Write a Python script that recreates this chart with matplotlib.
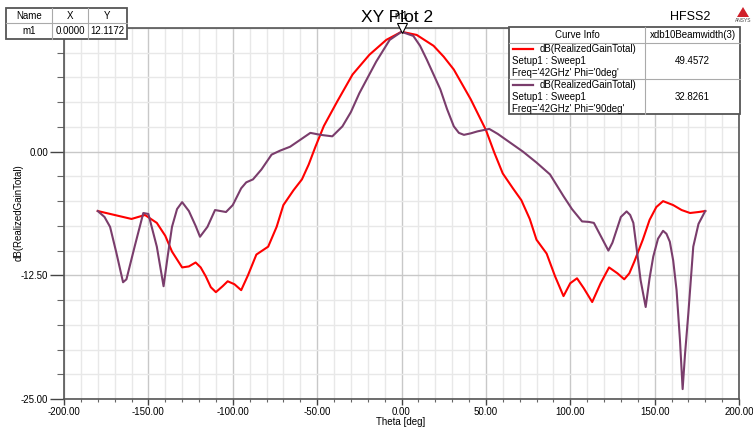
import matplotlib
matplotlib.use("Agg")
import matplotlib.pyplot as plt
from matplotlib.patches import Rectangle, Polygon
from matplotlib.lines import Line2D
import matplotlib.transforms as mtrans
from matplotlib.ticker import MultipleLocator

plt.rcParams['font.family'] = ['Liberation Sans', 'DejaVu Sans']

# Phi = 0deg (red)
theta0 = [-180, -170, -160, -152, -145, -140, -136, -130, -126, -122, -119, -116, -113,
          -110, -106, -103, -99, -95, -91, -86, -79, -74, -70, -64, -59, -55, -51, -46,
          -38, -29, -19, -9, 0, 9, 19, 25, 31, 41, 50, 55, 60, 66, 71, 76, 80, 86, 91,
          96, 100, 104, 108, 113, 118, 123, 128, 132, 135, 138, 143, 147, 151, 155, 161,
          166, 171, 176, 180]
gain0 = [-6.0, -6.4, -6.8, -6.4, -7.2, -8.5, -10.1, -11.7, -11.6, -11.2, -11.7, -12.6, -13.7,
         -14.2, -13.6, -13.1, -13.4, -14.0, -12.5, -10.4, -9.6, -7.6, -5.4, -3.9, -2.8, -1.3, 0.5, 2.6,
         5.1, 7.8, 9.8, 11.3, 12.1172, 11.8, 10.7, 9.6, 8.3, 5.3, 2.2, -0.1, -2.2, -3.7, -4.9, -6.8, -8.9, -10.3, -12.6,
         -14.6, -13.3, -12.8, -13.8, -15.2, -13.3, -11.7, -12.3, -12.9, -12.3, -11.1, -8.9, -6.9, -5.6, -5.0, -5.4,
         -5.9, -6.2, -6.1, -6.0]

# Phi = 90deg (purple)
theta90 = [-180, -176, -172.7, -169, -165, -163, -158, -153, -150, -145, -141, -138.5, -136,
           -133, -130, -126, -122, -119.4, -115, -110.5, -104, -100, -95, -92, -88, -83, -77,
           -72, -66, -60, -54, -48, -41, -35, -30, -25, -20, -15, -7, 0, 7, 11, 15, 19, 23,
           27, 31, 34, 37, 41, 45, 52, 57, 62, 67, 72, 80, 88, 92, 96, 101, 107, 111, 114,
           118, 122.6, 125, 127.5, 130, 133.4, 135.5, 137.4, 139.5, 141.7, 144.7, 147, 149.2,
           152, 155, 157, 159, 161, 163, 165, 166.6, 168, 170, 172.9, 176, 180]
gain90 = [-6.0, -6.6, -7.6, -10.2, -13.2, -12.9, -9.5, -6.2, -6.3, -9.6, -13.6, -10.5, -7.6,
          -5.8, -5.1, -6.0, -7.5, -8.6, -7.6, -5.9, -6.1, -5.4, -3.7, -3.1, -2.8, -1.8, -0.3,
          0.1, 0.5, 1.2, 1.9, 1.7, 1.55, 2.56, 4.0, 5.9, 7.5, 9.1, 11.3, 12.1172, 11.7, 10.7, 9.3, 7.8, 6.3,
          4.3, 2.56, 1.9, 1.7, 1.85, 2.05, 2.3, 1.8, 1.2, 0.6, 0.0, -1.1, -2.3, -3.4, -4.5, -5.8, -7.05, -7.1, -7.2,
          -8.5, -10.0, -9.2, -7.9, -6.6, -6.04, -6.4, -7.2, -10.0, -13.0, -15.7, -12.8, -10.6,
          -8.8, -8.0, -8.3, -9.1, -11.0, -14.0, -19.0, -24.0, -20.5, -16.3, -9.6, -7.3, -6.0]

beamwidths = ["49.4572", "32.8261"]
curve_names = ["Freq='42GHz' Phi='0deg'", "Freq='42GHz' Phi='90deg'"]
colors = ["#ff0000", "#7a3d6c"]
marker_x, marker_y = 0.0, 12.1172

W, H = 753, 428
fig = plt.figure(figsize=(W / 100, H / 100), dpi=100)
ax = fig.add_axes([64 / W, 1 - 399 / H, 675 / W, 371 / H])

def fx(x):
    return x / W

def fy(y):
    return 1 - y / H

ax.plot(theta0, gain0, color=colors[0], lw=1.5, zorder=3)
ax.plot(theta90, gain90, color=colors[1], lw=1.5, zorder=3)

ax.set_xlim(-200, 200)
ax.set_ylim(-25, 12.5)
ax.xaxis.set_major_locator(MultipleLocator(50))
ax.xaxis.set_minor_locator(MultipleLocator(10))
ax.yaxis.set_major_locator(MultipleLocator(12.5))
ax.yaxis.set_minor_locator(MultipleLocator(2.5))
ax.xaxis.set_major_formatter(lambda v, p: "%.2f" % v)
# top label is hidden behind the marker table in the reference
ax.yaxis.set_major_formatter(lambda v, p: "" if v > 12 else "%.2f" % v)
ax.grid(which='major', color='#c8c8c8', lw=1.0)
ax.grid(which='minor', color='#e8e8e8', lw=1.0)
ax.set_axisbelow(True)
ax.tick_params(axis='x', which='major', length=4, width=1, color='#444444', labelsize=7, pad=2)
ax.tick_params(axis='x', which='minor', length=2.5, width=0.8, color='#666666')
ax.tick_params(axis='y', which='major', length=10, width=1, color='#444444', labelsize=7, pad=1.5)
ax.tick_params(axis='y', which='minor', length=5, width=0.8, color='#666666')
for s in ax.spines.values():
    s.set_color('#555555')
    s.set_linewidth(1.2)
fig.text(fx(401), fy(422), "Theta [deg]", fontsize=7, ha='center', va='center')
fig.text(fx(19), fy(213), "dB(RealizedGainTotal)", fontsize=7, ha='center', va='center',
         rotation=90)

# marker m1
tr = mtrans.offset_copy(ax.transData, fig=fig, x=0, y=4, units='dots')
ax.plot(marker_x, marker_y, marker='v', ms=7.5, mfc='white', mec='black', mew=0.8,
        transform=tr, clip_on=False, zorder=6)
fig.text(fx(401), fy(16), "m1", fontsize=7, ha='center', va='center', zorder=7)

fig.text(fx(397), fy(17), "XY Plot 2", fontsize=12.5, ha='center', va='center')
fig.text(fx(690), fy(17), "HFSS2", fontsize=9, ha='center', va='center')
fig.patches.append(Polygon([[fx(737), fy(17)], [fx(749), fy(17)], [fx(743), fy(7)]],
                           closed=True, transform=fig.transFigure, facecolor='#d0202a',
                           edgecolor='none'))
fig.text(fx(743), fy(21), "ANSYS", fontsize=3.5, ha='center', va='center', color='#444444')

def box(x0, y0, x1, y1, lw=1.0, ec='#555555'):
    fig.patches.append(Rectangle((fx(x0), fy(y1)), fx(x1) - fx(x0), fy(y0) - fy(y1),
                                 transform=fig.transFigure, facecolor='white',
                                 edgecolor=ec, lw=lw, zorder=5))

def hline(x0, x1, y, color='#aaaaaa', lw=0.8):
    fig.lines.append(Line2D([fx(x0), fx(x1)], [fy(y), fy(y)], transform=fig.transFigure,
                            color=color, lw=lw, zorder=6))

def vline(x, y0, y1, color='#aaaaaa', lw=0.8):
    fig.lines.append(Line2D([fx(x), fx(x)], [fy(y0), fy(y1)], transform=fig.transFigure,
                            color=color, lw=lw, zorder=6))

# marker table
box(6, 8, 127, 39, lw=1.3)
hline(6, 127, 23)
vline(52, 8, 39)
vline(88, 8, 39)
for cx, t in zip([29, 70, 107.5], ["Name", "X", "Y"]):
    fig.text(fx(cx), fy(16), t, fontsize=7, ha='center', va='center', zorder=7)
for cx, t in zip([29, 70, 107.5], ["m1", "%.4f" % marker_x, "%.4f" % marker_y]):
    fig.text(fx(cx), fy(31.5), t, fontsize=7, ha='center', va='center', zorder=7)

# curve info table
box(509, 27, 740, 114, lw=1.3)
vline(645, 27, 114)
hline(509, 740, 43)
hline(509, 740, 79)
fig.text(fx(577), fy(35), "Curve Info", fontsize=7, ha='center', va='center', zorder=7)
fig.text(fx(692.5), fy(35), "xdb10Beamwidth(3)", fontsize=7, ha='center', va='center', zorder=7)
for i, (top, name, bw) in enumerate(zip([43, 79], curve_names, beamwidths)):
    y1 = top + 6
    fig.lines.append(Line2D([fx(513), fx(533)], [fy(y1), fy(y1)], transform=fig.transFigure,
                            color=colors[i], lw=1.6, zorder=7))
    fig.text(fx(540), fy(y1), "dB(RealizedGainTotal)", fontsize=7, ha='left', va='center', zorder=7)
    fig.text(fx(512), fy(y1 + 12), "Setup1 : Sweep1", fontsize=7, ha='left', va='center', zorder=7)
    fig.text(fx(512), fy(y1 + 23.5), name, fontsize=7, ha='left', va='center', zorder=7)
    fig.text(fx(692.5), fy(y1 + 12), bw, fontsize=7, ha='center', va='center', zorder=7)

fig.savefig("out.png", dpi=100)
